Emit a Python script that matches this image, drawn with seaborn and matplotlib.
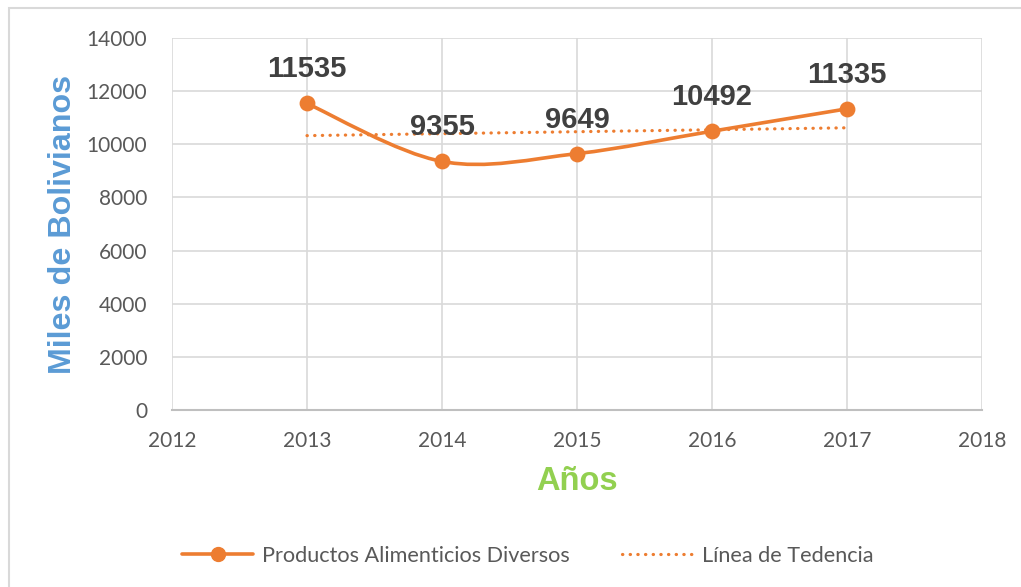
import numpy as np
import matplotlib
matplotlib.use("Agg")
import matplotlib.pyplot as plt
import seaborn as sns
from matplotlib.path import Path
from matplotlib.patches import PathPatch, Rectangle
from matplotlib.lines import Line2D

# Data
years = [2013, 2014, 2015, 2016, 2017]
values = [11535, 9355, 9649, 10492, 11335]
series_name = "Productos Alimenticios Diversos"
trend_name = "Línea de Tedencia"

orange = "#ED7D31"
grid_col = "#D9D9D9"
text_col = "#595959"

sns.set_theme(style="white")
plt.rcParams["font.family"] = ["Lato", "DejaVu Sans"]

fig = plt.figure(figsize=(10.21, 5.87), dpi=100)
ax = fig.add_axes([172 / 1021, 1 - 410 / 587, 810 / 1021, 372 / 587])

# smoothed line like Excel (bezier through the points)
pts = np.column_stack([years, values]).astype(float)
ext = np.vstack([pts[0], pts, pts[-1]])
verts = [tuple(pts[0])]
codes = [Path.MOVETO]
for i in range(1, len(ext) - 2):
    p0, p1, p2, p3 = ext[i - 1], ext[i], ext[i + 1], ext[i + 2]
    c1 = p1 + (p2 - p0) / 6
    c2 = p2 - (p3 - p1) / 6
    verts += [tuple(c1), tuple(c2), tuple(p2)]
    codes += [Path.CURVE4] * 3
ax.add_patch(PathPatch(Path(verts, codes), facecolor="none", edgecolor=orange,
                       lw=2.6, zorder=3, capstyle="round", joinstyle="round"))

sns.scatterplot(x=years, y=values, ax=ax, color=orange, s=130, edgecolor=orange,
                linewidth=0, zorder=4, legend=False)

# linear trend line
sns.regplot(x=years, y=values, ax=ax, scatter=False, ci=None, truncate=True,
            line_kws=dict(color=orange, lw=2.3, linestyle=(0, (0.1, 2.3)),
                          dash_capstyle="round", zorder=2))

for x, y in zip(years, values):
    ax.annotate(str(y), (x, y), xytext=(0, 24.5), textcoords="offset points",
                ha="center", va="center", fontsize=21, fontweight="bold",
                color="#404040", family="Liberation Sans", zorder=6)

ax.set_xlim(2012, 2018)
ax.set_ylim(0, 14000)
ax.set_xticks(range(2012, 2019))
ax.set_yticks(range(0, 14001, 2000))
ax.grid(True, color=grid_col, lw=1.2)
ax.set_axisbelow(True)
for s in ["top", "left", "right"]:
    ax.spines[s].set_visible(False)
ax.spines["bottom"].set_color("#BFBFBF")
ax.spines["bottom"].set_linewidth(1.5)
ax.tick_params(axis="both", length=0, labelsize=15, colors=text_col)
ax.tick_params(axis="y", pad=18)
ax.tick_params(axis="x", pad=15)

ax.set_ylabel("Miles de Bolivianos", fontsize=23.2, fontweight="bold",
              color="#5B9BD5", family="Liberation Sans", va="center")
ax.yaxis.set_label_coords(-0.1346, 0.5)
ax.set_xlabel("Años", fontsize=23.5, fontweight="bold", color="#92D050",
              family="Liberation Sans", va="center")
ax.xaxis.set_label_coords(0.5, -0.1935)

handles = [
    Line2D([], [], color=orange, lw=2.6, marker="o", markersize=10),
    Line2D([], [], color=orange, lw=2.3, linestyle=(0, (0.1, 2.3)),
           dash_capstyle="round"),
]
fig.legend(handles, [series_name, trend_name], loc="center",
           bbox_to_anchor=(0.5167, 1 - 556 / 587), ncol=2, frameon=False,
           fontsize=15.6, handlelength=3.3, columnspacing=2.4, handletextpad=0.4,
           labelcolor=text_col)

fig.patches.append(Rectangle((9 / 1021, -0.1), 1.2, (1 - 8 / 587) + 0.1,
                             transform=fig.transFigure, fill=False,
                             edgecolor="#D9D9D9", lw=1.5))

fig.savefig("out.png", dpi=100)
